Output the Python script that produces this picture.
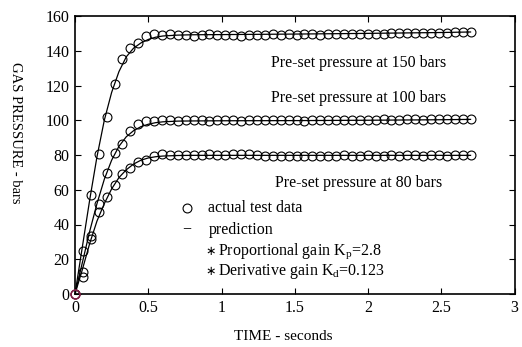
import  matplotlib
matplotlib.use("Agg")

import  matplotlib.pyplot   as  plt

##############################################################
###------------------------data----------------------------###
##############################################################

###--------------measured_points_(circles)-----------------###
time_test   =   [0, .054, .108, .162, .216, .27, .324, .378, .432, .486,
                 .54, .594, .648, .702, .756, .81, .864, .918, .972, 1.026,
                 1.08, 1.134, 1.188, 1.242, 1.296, 1.35, 1.404, 1.458, 1.512, 1.566,
                 1.62, 1.674, 1.728, 1.782, 1.836, 1.89, 1.944, 1.998, 2.052, 2.106,
                 2.16, 2.214, 2.268, 2.322, 2.376, 2.43, 2.484, 2.538, 2.592, 2.646,
                 2.7]

test_150    =   [0, 24.9, 57, 80.4, 101.7, 120.9, 135.4, 141.6, 144.6, 148.5,
                 149.6, 149.3, 149.5, 149.2, 149.0, 148.4, 149.1, 149.4, 149.2, 149.0,
                 148.8, 148.5, 149.3, 149.0, 149.2, 149.4, 149.3, 149.5, 149.3, 149.6,
                 149.4, 149.2, 149.4, 149.6, 149.5, 149.7, 149.5, 149.8, 149.9, 149.7,
                 150.0, 150.2, 150.0, 150.1, 150.3, 150.4, 150.2, 150.5, 150.6, 150.9,
                 150.8]

test_100    =   [0, 12.8, 33.4, 51.8, 69.8, 81.3, 86.2, 94, 97.8, 99.7,
                 99.7, 100.2, 100.0, 99.8, 100.1, 99.9, 100.0, 99.8, 99.9, 100.1,
                 100.0, 99.8, 99.9, 100.0, 100.2, 100.0, 99.9, 100.1, 100.0, 99.8,
                 100.0, 100.2, 100.1, 100.0, 100.2, 100.3, 100.1, 100.4, 100.2, 100.5,
                 100.3, 100.4, 100.6, 100.5, 100.4, 100.6, 100.7, 100.6, 100.8, 100.7,
                 101.0]

test_80     =   [0, 9.6, 31.5, 47.4, 55.6, 62.7, 69, 72.3, 75.8, 77.1,
                 79.6, 80.3, 80.0, 80.2, 80.1, 79.9, 80.1, 80.3, 80.2, 80.0,
                 80.4, 80.6, 80.3, 80.1, 79.5, 79.3, 79.5, 79.6, 79.4, 79.5,
                 79.6, 79.7, 79.5, 79.6, 79.8, 79.6, 79.7, 79.8, 79.7, 79.6,
                 79.8, 79.7, 79.9, 79.8, 79.7, 79.9, 79.8, 79.7, 79.9, 80.0,
                 79.8]

###------------------prediction_lines---------------------###
time_pred   =   [0, .05, .1, .15, .2, .25, .3, .35, .4, .45,
                 .5, .55, .6, .7, .8, 1.0, 1.5, 2.0, 2.5, 2.7]
pred_150    =   [0, 27, 54, 79, 100, 116, 128, 136.5, 141.5, 144.5,
                 146.5, 147.8, 148.5, 149, 149.2, 149.3, 149.6, 150, 150.5, 150.8]
pred_100    =   [0, 18, 36, 52, 66, 77, 85, 90.5, 94, 96.3,
                 97.7, 98.6, 99.1, 99.5, 99.6, 99.7, 99.8, 100, 100.3, 100.5]
pred_80     =   [0, 14, 29, 42, 52, 60.5, 67, 71.5, 74.8, 77,
                 78.3, 79, 79.4, 79.7, 79.8, 79.8, 79.8, 79.8, 79.8, 79.8]

x_ticks     =   [0, 0.5, 1, 1.5, 2, 2.5, 3]
x_labels    =   ["0", "0.5", "1", "1.5", "2", "2.5", "3"]
y_ticks     =   [0, 20, 40, 60, 80, 100, 120, 140, 160]

##############################################################
###---------------------plot_graph-------------------------###
##############################################################
plt.rcParams["font.family"]         =   ["Liberation Serif", "DejaVu Serif"]
plt.rcParams["mathtext.fontset"]    =   "custom"
plt.rcParams["mathtext.rm"]         =   "Liberation Serif"

fig =   plt.figure(figsize=(5.22, 3.47), dpi=100, facecolor="white")
ax  =   fig.add_axes([75/522, 1-294/347, 439.5/522, 278/347])

for pred in (pred_150, pred_100, pred_80):
    ax.plot(time_pred, pred, color="black", lw=0.9, zorder=2)

for test in (test_150, test_100, test_80):
    ax.plot(time_test, test, ls="none", marker="o", ms=6.4, mfc="none",
            mec="black", mew=0.8, zorder=3)
    ax.plot(time_test[0], test[0], ls="none", marker="o", ms=6.4, mfc="none",
            mec="#7a1f45", mew=0.9, zorder=4, clip_on=False)

###-------------parameters_for_axis_x_and_y----------------###
ax.set_xlim(0, 3)
ax.set_ylim(0, 160)
ax.set_xticks(x_ticks)
ax.set_xticklabels(x_labels)
ax.set_yticks(y_ticks)
ax.tick_params(direction="in", length=4, width=0.8, top=True, right=True,
               labelsize=11.5, pad=4)
for spine in ax.spines.values():
    spine.set_linewidth(1.2)

fig.text(283/522, 1-337/347, "TIME - seconds", fontsize=11, ha="center", va="center")
fig.text(15/522, 1-133/347, "GAS PRESSURE - bars", fontsize=10.5, rotation=270,
         ha="center", va="center")

###---------------add_text_in_the_graph--------------------###
ax.text(1.338, 133.1, "Pre-set pressure at 150 bars", fontsize=11.5, va="center")
ax.text(1.338, 112.6, "Pre-set pressure at 100 bars", fontsize=11.5, va="center")
ax.text(1.362, 64.1, "Pre-set pressure at 80 bars", fontsize=11.5, va="center")

ax.plot(0.762, 49.5, ls="none", marker="o", ms=6.4, mfc="none", mec="black", mew=0.8)
ax.text(0.91, 49.6, "actual test data", fontsize=11.5, va="center")
ax.text(0.762, 37.0, "\u2212", fontsize=11.5, ha="center", va="center")
ax.text(0.91, 37.0, "prediction", fontsize=11.5, va="center")

###----------star_marks_for_the_gain_values---------------###
for y_star in (24.6, 13.1):
    ax.text(0.893, y_star, "\u2217", fontsize=9, family="DejaVu Sans",
            va="center")
ax.text(0.975, 24.6, "Proportional gain K$_\\mathregular{p}$=2.8",
        fontsize=11.5, va="center")
ax.text(0.975, 13.1, "Derivative gain K$_\\mathregular{d}$=0.123",
        fontsize=11.5, va="center")

###--------------------save_graph--------------------------###
plt.savefig("out.png", dpi=100)
